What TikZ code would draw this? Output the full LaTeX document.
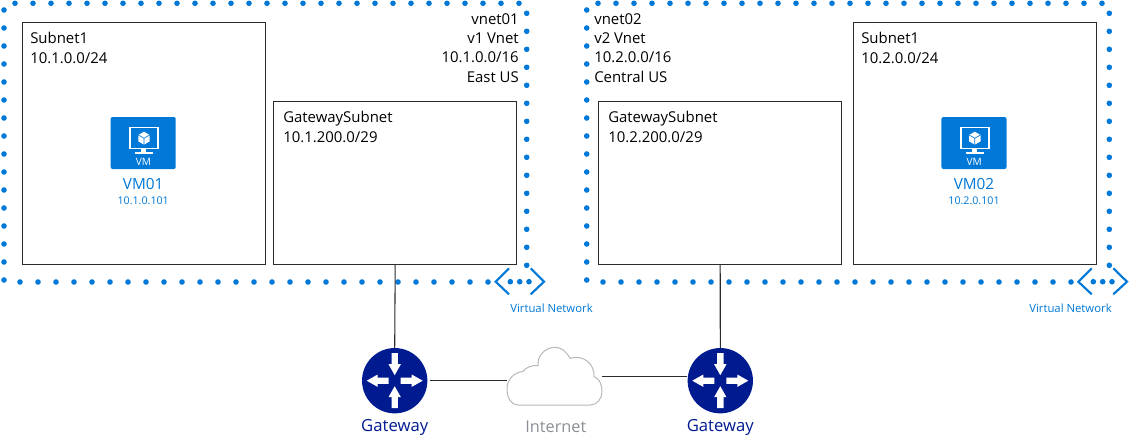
\documentclass[tikz,border=0pt]{standalone}
\usepackage{fontspec}
\setmainfont{Open Sans}
\usetikzlibrary{positioning,calc}
\definecolor{azul}{HTML}{0078D7}
\definecolor{marino}{HTML}{001A90}
\definecolor{nubec}{HTML}{B8B8B8}
\definecolor{gris}{HTML}{8A8F96}
\definecolor{linea}{HTML}{2B2B2B}
\newcommand{\fuente}[1]{\fontsize{#1}{15}\selectfont}

\begin{document}
\begin{tikzpicture}[x=0.75pt,y=-0.75pt,
  caja/.style={draw=linea,line width=0.8pt,fill=white,anchor=north west,inner sep=0pt,
               minimum width=182.5pt,minimum height=#1},
  rotulo/.style={font=\fuente{11.2},text=black,inner sep=0pt,align=left,anchor=north west},
  rotulod/.style={rotulo,font=\fontsize{11.2}{14.5}\selectfont,align=right,anchor=north east},
  enlace/.style={line width=0.8pt,color=linea},
  ruta/.style={circle,fill=marino,minimum size=49pt,inner sep=0pt},
  rutatxt/.style={font=\fuente{12.5},text=marino,inner sep=0pt},
  vmtxt/.style={font=\fuente{11.5},text=azul,inner sep=0pt},
  iptxt/.style={font=\fuente{8},text=azul,inner sep=0pt},
  redtxt/.style={font=\fuente{8.5},text=azul,inner sep=0pt},
  cheuron/.style={azul,line width=1.6pt},
  iconovm/.pic={
    \node[fill=azul,rounded corners=1.5pt,minimum width=48.8pt,minimum height=39pt,inner sep=0pt] (-caja) at (0,0) {};
    \draw[white,line width=1.1pt] (-13.2,-15.5) rectangle (14.8,5.3);
    \fill[white] (-2,5.3) rectangle (3,9.3);
    \fill[white] (-8.5,9) rectangle (10,10.5);
    \fill[white] (0.8,-11.3) -- (6.5,-8) -- (6.5,-1.6) -- (0.8,1.6) -- (-4.9,-1.6) -- (-4.9,-8) -- cycle;
    \draw[azul,line width=0.5pt] (-4.9,-8) -- (0.8,-4.8) -- (6.5,-8) (0.8,-4.8) -- (0.8,1.6);
    \node[font=\fuente{7.6},text=white,inner sep=0pt] (-rot) at (0.3,19.3) {VM};
  }]
  \useasboundingbox (0,0) rectangle (1129,447);

  \foreach \x in {15,33,...,519} \fill[azul] (\x,3.3) circle (2.8);
  \foreach \x in {20,38,...,488} \fill[azul] (\x,282) circle (2.8);
  \foreach \y in {10,28,...,280} \fill[azul] (4,\y) circle (2.8);
  \foreach \y in {13.3,31.3,...,266} \fill[azul] (526.7,\y) circle (2.8);
  \foreach \x in {510.3,519.7,529} \fill[azul] (\x,281.7) circle (2.8);
  \foreach \x in {598,616,...,1102} \fill[azul] (\x,3.3) circle (2.8);
  \foreach \x in {603,621,...,1071} \fill[azul] (\x,282) circle (2.8);
  \foreach \y in {10,28,...,280} \fill[azul] (586.7,\y) circle (2.8);
  \foreach \y in {13.3,31.3,...,266} \fill[azul] (1109.3,\y) circle (2.8);
  \foreach \x in {1093.3,1102.7,1112} \fill[azul] (\x,281.7) circle (2.8);
  \draw[cheuron] (509,268.3) -- (495.7,281.7) -- (509,294.3);
  \draw[cheuron] (530.7,268.3) -- (544,281.7) -- (530.7,294.3);
  \draw[cheuron] (1091.7,268.3) -- (1078.3,281.7) -- (1091.7,294.3);
  \draw[cheuron] (1113.3,268.3) -- (1127,281.7) -- (1113.3,294.3);

  \node[caja=182pt] (sub1) at (22,21.7) {};
  \node[caja=122pt] (gws1) at (273,101) {};
  \node[caja=122pt] (gws2) at (598,101) {};
  \node[caja=182pt] (sub2) at (853,21.7) {};

  \node[rotulo] (tsub1) at ([xshift=6pt,yshift=-7.5pt]sub1.north west) {Subnet1\\10.1.0.0/24};
  \node[rotulo] (tgws1) at ([xshift=7.5pt,yshift=-7.5pt]gws1.north west) {GatewaySubnet\\10.1.200.0/29};
  \node[rotulo] (tgws2) at ([xshift=7.5pt,yshift=-7.5pt]gws2.north west) {GatewaySubnet\\10.2.200.0/29};
  \node[rotulo] (tsub2) at ([xshift=6pt,yshift=-7.5pt]sub2.north west) {Subnet1\\10.2.0.0/24};
  \node[rotulod] (tred1) at (519,13) {vnet01\\v1 Vnet\\10.1.0.0/16\\East US};
  \node[rotulo,font=\fontsize{11.2}{14.5}\selectfont] (tred2) at (594,13) {vnet02\\v2 Vnet\\10.2.0.0/16\\Central US};

  \pic (vm1) at (143.2,143) {iconovm};
  \pic (vm2) at (974,143) {iconovm};
  \node[vmtxt] (tvm1) at (143.2,184) {VM01};
  \node[iptxt] (ip1) at (143.2,201) {10.1.0.101};
  \node[vmtxt] (tvm2) at (974,184) {VM02};
  \node[iptxt] (ip2) at (974,201) {10.2.0.101};
  \node[redtxt] (vn1) at (551.5,308) {Virtual Network};
  \node[redtxt] (vn2) at (1070.5,308) {Virtual Network};

  \node[ruta] (gw1) at (394.7,380.7) {};
  \node[ruta] (gw2) at (720.3,380.7) {};
  \node[minimum width=71.5pt,minimum height=43.5pt,inner sep=0pt] (nube) at (554.5,376.5) {};
  \node[rutatxt,below=4.5pt of gw1.south] (tgw1) {Gateway};
  \node[rutatxt,below=4.5pt of gw2.south] (tgw2) {Gateway};
  \node[font=\fuente{12.2},text=gris,inner sep=0pt,below=11.5pt of nube.south,xshift=1pt] (tnube) {Internet};

  \draw[enlace] (gws1.south) -- (gw1.north);
  \draw[enlace] (gws2.south) -- (gw2.north);
  \draw[enlace,shorten <=1.5pt] (gw1.east) -- (gw1.east -| nube.west);
  \draw[enlace] (nube.east) -- (nube.east -| gw2.west);
  \draw[nubec,line width=0.75pt,fill=white] (518,405) -- (590,405) .. controls (597,405) and (602,399) .. (602,391.7)
    .. controls (602,384) and (599,378) .. (594,376.7) .. controls (595,364) and (583,354) .. (570,358.3)
    .. controls (566,351) and (561,347.3) .. (555,347.3) .. controls (545,347.3) and (537,356) .. (538,365.5)
    .. controls (531,365) and (525,368) .. (523,371.5) .. controls (514,372) and (507,380) .. (507,388.5)
    .. controls (507,398) and (511,405) .. (518,405) -- cycle;

  \foreach \g in {gw1,gw2} {
    \foreach \a/\r/\n/\p in {0/6/17/28,180/6/17/28,90/27.5/16.5/5.5,270/27.5/16.5/5.5} {
      \fill[white,shift={(\g)},rotate=\a] (\r,-3.2) -- (\n,-3.2) -- (\n,-6.2) -- (\p,0) -- (\n,6.2) -- (\n,3.2) -- (\r,3.2) -- cycle;
    }
  }
\end{tikzpicture}
\end{document}
